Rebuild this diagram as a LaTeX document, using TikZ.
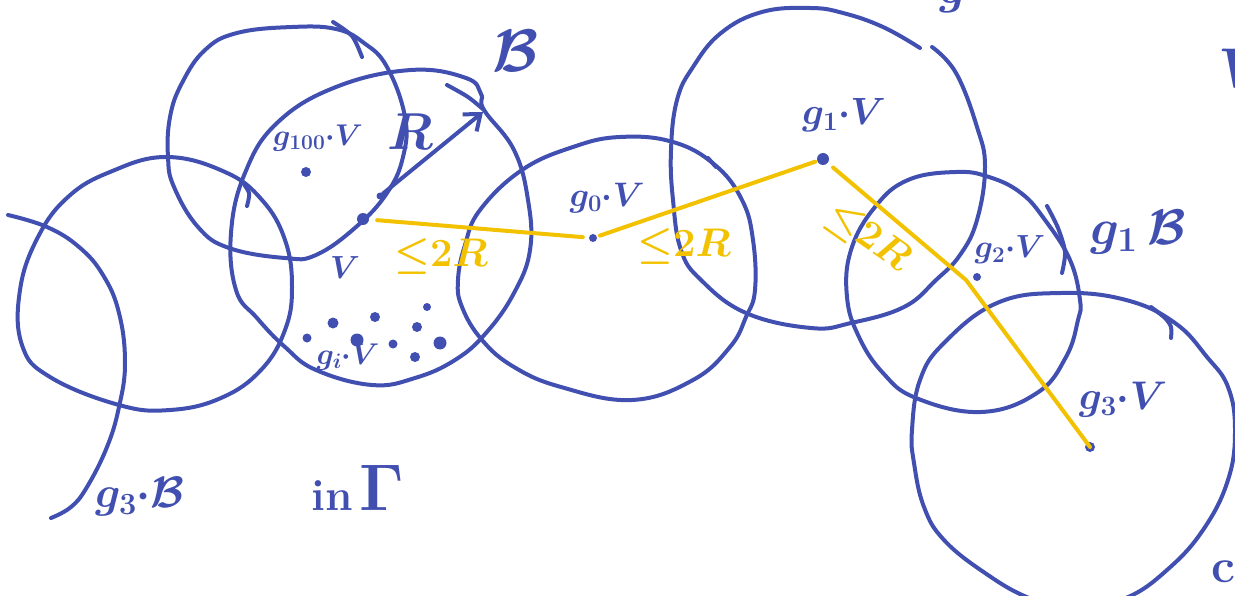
\RequirePackage{fix-cm}
\documentclass[tikz,border=0pt]{standalone}
\definecolor{ink}{HTML}{4150B0}
\definecolor{gold}{HTML}{F2C200}
\usetikzlibrary{arrows.meta}

\begin{document}
\begin{tikzpicture}[x=1pt, y=-1pt,
  ball/.style={draw=ink, line width=4pt, line cap=round, line join=round},
  dot/.style={circle, fill=ink, inner sep=0pt, minimum size=#1},
  dot/.default=10pt,
  lab/.style={text=ink, inner sep=0pt, font=\fontsize{#1}{#1}\selectfont\bfseries\boldmath},
  lab/.default=32,
  bound/.style={draw=gold, line width=4pt, line cap=round},
  blab/.style={text=gold, inner sep=0pt, font=\fontsize{40}{40}\selectfont\boldmath},
]
\useasboundingbox (0,0) rectangle (1235,596);

% balls, drawn by hand
\draw[ball] plot[smooth, tension=0.7] coordinates {(8,215) (47,227) (79,247) (103,275) (119,313) (125,363) (119,407) (107,447) (87,487) (71,507) (51,518)};
\draw[ball] plot[smooth cycle, tension=0.7] coordinates {(166,157) (110,172) (68,197) (38,237) (20,290) (22,345) (50,377) (119,405) (170,410) (221,398) (261,370) (285,330) (292,287) (285,240) (262,200) (225,172)};
\draw[ball] plot[smooth] coordinates {(241,180) (249,193) (247,206)};
\draw[ball] plot[smooth cycle, tension=0.7] coordinates {(292,27) (237,33) (205,50) (182,83) (170,117) (168,157) (174,187) (198,227) (229,248) (285,258) (316,255) (356,227) (387,193) (403,157) (405,117) (387,67) (364,43) (336,29)};
\draw[ball] plot[smooth] coordinates {(333,22) (352,36) (362,57)};
\draw[ball] plot[smooth cycle, tension=0.7] coordinates {(411,70) (466,78) (481,94) (484,110) (514,150) (528,200) (530,250) (514,293) (486,333) (455,360) (415,378) (372,385) (316,370) (285,347) (257,318) (236,290) (231,233) (245,173) (277,123) (336,87)};
\draw[ball] plot[smooth] coordinates {(447,85) (468,97) (484,110)};
\draw[ball] plot[smooth cycle, tension=0.7] coordinates {(620,137) (673,142) (715,165) (742,200) (753,240) (755,290) (746,317) (730,347) (693,380) (632,400) (561,387) (514,367) (482,340) (462,307) (458,280) (465,245) (480,210) (522,170) (573,147)};
\draw[ball] (708,158) -- (716,167);
\draw[ball] plot[smooth, tension=0.7] coordinates {(932,47) (956,73) (977,127) (985,167) (977,220) (960,255) (936,280) (904,307) (851,323) (811,328) (746,313) (701,280) (681,250) (673,200) (671,150) (677,100) (693,67) (721,33) (762,12) (810,8) (843,13) (883,27) (920,48)};
\draw[ball] plot[smooth cycle, tension=0.7] coordinates {(956,172) (989,177) (1021,193) (1045,220) (1070,260) (1080,300) (1078,320) (1066,357) (1037,393) (981,412) (916,398) (883,373) (859,337) (847,297) (851,250) (875,207) (908,180)};
\draw[ball] plot[smooth] coordinates {(1047,206) (1058,228) (1065,252) (1062,273)};
\draw[ball] plot[smooth cycle, tension=0.7] coordinates {(1061,293) (1126,300) (1175,323) (1207,357) (1228,387) (1235,430) (1228,480) (1203,530) (1167,570) (1126,598) (1075,610) (1029,598) (985,573) (944,540) (924,507) (914,463) (912,430) (920,380) (944,343) (997,303)};
\draw[ball] plot[smooth] coordinates {(1151,307) (1165,318) (1171,327) (1171,338)};

% orbit points
\node[dot=10pt] (g100) at (306,172) {};
\node[dot=12pt] (v) at (363,219) {};
\node[dot=7pt] (r0) at (380,196) {};
\node[dot=8pt] (g0) at (593,238) {};
\node[dot=12pt] (g1) at (823,159) {};
\node[dot=8pt] (g2) at (977,277) {};
\node[dot=10pt] (g3) at (1090,447) {};
\foreach \x/\y/\s [count=\i] in {307/338/9pt, 333/323/11pt, 375/317/10pt, 427/307/8pt, 417/327/10pt,
    357/340/13pt, 393/344/9pt, 440/343/13pt, 415/357/10pt}
  \node[dot=\s] (gi\i) at (\x,\y) {};
\coordinate (r1) at (483,112);
\coordinate (kink) at (966,280);

% radius and the 2R steps
\draw[ball, -{Straight Barb[length=14pt, width=22pt]}] (r0) -- (r1);
\draw[bound, shorten <=8pt, shorten >=6pt] (v) -- (g0);
\draw[bound, shorten <=3pt, shorten >=2pt] (g0) -- (g1);
\draw[bound, shorten <=7pt] (g1) -- (kink) -- (g3.center);

\node[lab=60] (lb) at (516,51) {$\mathcal{B}$};
\node[lab=52] (lr) at (410,132) {$R$};
\node[lab=30] (l100) at (318,138) {$g_{100}{\cdot}V$};
\node[lab=32] (lv) at (345,268) {$V$};
\node[lab=30] (lgi) at (348,357) {$g_i{\cdot}V$};
\node[lab=34] (lg0) at (607,198) {$g_0{\cdot}V$};
\node[lab=38] (lg1) at (844,115) {$g_1{\cdot}V$};
\node[lab=32] (lg2) at (1010,250) {$g_2{\cdot}V$};
\node[lab=50] (lg1b) at (1138,232) {$g_1\,\mathcal{B}$};
\node[lab=40] (lg3) at (1123,400) {$g_3{\cdot}V$};
\node[lab=44] (lg3b) at (140,497) {$g_3{\cdot}\mathcal{B}$};
\node[lab=44, anchor=base] (lin) at (358,510) {in\,{\fontsize{66}{66}\selectfont$\Gamma$}};
\node[blab] (b1) at (441,257) {${\leq}2R$};
\node[blab] (b2) at (684,247) {${\leq}2R$};
\node[blab, rotate=-35] (b3) at (868,238) {${\leq}2R$};

% cut off at the edges
\node[lab=48, anchor=base] (fg) at (953,4) {$g$};
\node[lab=56, anchor=base west] (fv) at (1218,88) {$V$};
\node[lab=48, anchor=base west] (fcl) at (1211,582) {cl};
\end{tikzpicture}
\end{document}
